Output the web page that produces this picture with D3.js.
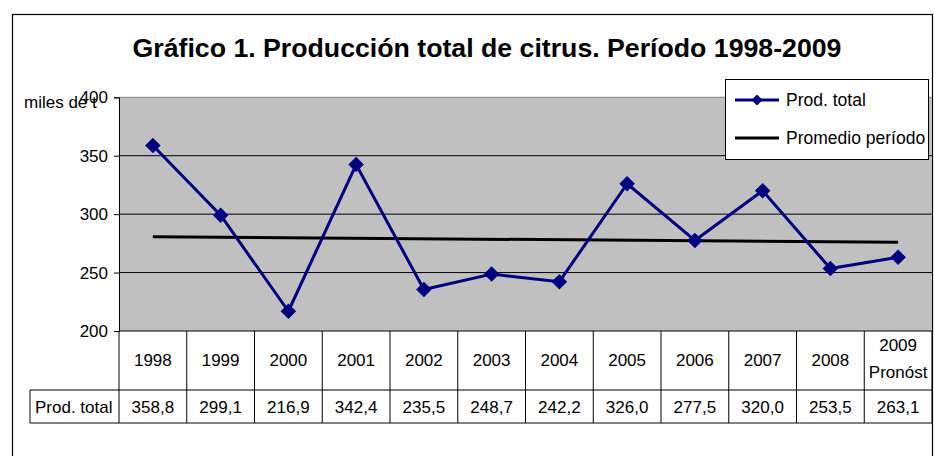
<!DOCTYPE html>
<html><head><meta charset="utf-8">
<script src="https://cdn.jsdelivr.net/npm/d3@7"></script>
<style>body{margin:0;background:#fff}svg{display:block;font-family:"Liberation Sans",Arial,sans-serif}</style>
</head><body>
<svg id="c" width="934" height="456"></svg>
<script>
const categories = ["1998","1999","2000","2001","2002","2003","2004","2005","2006","2007","2008","2009 Pronóst"];
const prodTotal = [358.8,299.1,216.9,342.4,235.5,248.7,242.2,326.0,277.5,320.0,253.5,263.1];
const tableValues = ["358,8","299,1","216,9","342,4","235,5","248,7","242,2","326,0","277,5","320,0","253,5","263,1"];
const promedioCats = ["1998","2009 Pronóst"];
const promedioValues = [280.7, 275.9];
const yTicks = [200,250,300,350,400];
const title = "Gráfico 1. Producción total de citrus. Período 1998-2009";

const svg = d3.select("#c");
const L = 119, R = 932, T = 97.3, B = 331;
const x = d3.scaleBand().domain(categories).range([L, R]);
const y = d3.scaleLinear().domain([200, 400]).range([B, T]);
const cx = d => x(d) + x.bandwidth()/2;

// outer border
svg.append("rect").attr("x",12.5).attr("y",14.5).attr("width",920).attr("height",460)
  .attr("fill","none").attr("stroke","#000").attr("stroke-width",1.2);

svg.append("text").attr("x",487).attr("y",57).attr("text-anchor","middle")
  .attr("font-weight","bold").attr("font-size",26.7).text(title);

// plot area
svg.append("rect").attr("x",L).attr("y",T).attr("width",R-L).attr("height",B-T).attr("fill","#c0c0c0");
svg.append("line").attr("x1",L).attr("x2",R).attr("y1",T).attr("y2",T).attr("stroke","#808080").attr("stroke-width",1);
svg.selectAll(".grid").data(yTicks.filter(v=>v>200 && v<400)).enter().append("line")
  .attr("x1",L).attr("x2",R).attr("y1",d=>y(d)).attr("y2",d=>y(d)).attr("stroke","#000").attr("stroke-width",1);

// y axis
const yAxis = d3.axisLeft(y).tickValues(yTicks).tickSize(5).tickPadding(6).tickFormat(d3.format("d"));
const ga = svg.append("g").attr("transform",`translate(${L},0)`).call(yAxis);
ga.select(".domain").attr("stroke","#000");
ga.selectAll("text").attr("font-size",17).attr("font-family","Liberation Sans, Arial, sans-serif").attr("fill","#000");
svg.append("text").attr("x",24).attr("y",108).attr("font-size",17).text("miles de t");

// bottom axis line
svg.append("line").attr("x1",L).attr("x2",R).attr("y1",B).attr("y2",B).attr("stroke","#000");

// table
const rowB1 = 390, rowB2 = 423, labL = 30;
const tg = svg.append("g").attr("stroke","#000").attr("stroke-width",1);
const edges = categories.map(c=>x(c)).concat([R]);
tg.selectAll(".v").data(edges).enter().append("line")
  .attr("x1",d=>d).attr("x2",d=>d).attr("y1",B).attr("y2",rowB2);
tg.append("line").attr("x1",labL).attr("x2",R).attr("y1",rowB1).attr("y2",rowB1);
tg.append("line").attr("x1",labL).attr("x2",R).attr("y1",rowB2).attr("y2",rowB2);
tg.append("line").attr("x1",labL).attr("x2",labL).attr("y1",rowB1).attr("y2",rowB2);

categories.forEach(c=>{
  const parts = c.split(" ");
  const t = svg.append("text").attr("x",cx(c)).attr("text-anchor","middle").attr("font-size",17);
  if(parts.length===1){ t.attr("y",366).text(c); }
  else {
    t.append("tspan").attr("x",cx(c)).attr("y",351).text(parts[0]);
    t.append("tspan").attr("x",cx(c)).attr("y",378).text(parts[1]);
  }
});
svg.selectAll(".tv").data(tableValues).enter().append("text")
  .attr("x",(d,i)=>cx(categories[i])).attr("y",413).attr("text-anchor","middle").attr("font-size",17).text(d=>d);
svg.append("text").attr("x",35).attr("y",413).attr("font-size",17).text("Prod. total");

// promedio line
svg.append("path").datum(promedioCats.map((c,i)=>[cx(c), y(promedioValues[i])]))
  .attr("d",d3.line()).attr("stroke","#000").attr("stroke-width",3).attr("fill","none");

// series
svg.append("path").datum(prodTotal).attr("d",d3.line().x((d,i)=>cx(categories[i])).y(d=>y(d)))
  .attr("stroke","#000080").attr("stroke-width",3).attr("fill","none").attr("stroke-linejoin","round");
const diamond = d3.symbol().type(d3.symbolSquare).size(120);
svg.selectAll(".m").data(prodTotal).enter().append("path")
  .attr("d",diamond).attr("fill","#000080")
  .attr("transform",(d,i)=>`translate(${cx(categories[i])},${y(d)}) rotate(45)`);

// legend
const lg = svg.append("g");
lg.append("rect").attr("x",725.5).attr("y",79.5).attr("width",203).attr("height",80).attr("fill","#fff").attr("stroke","#000");
lg.append("line").attr("x1",735).attr("x2",779).attr("y1",100).attr("y2",100).attr("stroke","#000080").attr("stroke-width",3);
lg.append("path").attr("d",d3.symbol().type(d3.symbolSquare).size(60)).attr("fill","#000080").attr("transform","translate(757,100) rotate(45)");
lg.append("text").attr("x",786).attr("y",106).attr("font-size",17.5).text("Prod. total");
lg.append("line").attr("x1",735).attr("x2",779).attr("y1",138).attr("y2",138).attr("stroke","#000").attr("stroke-width",3);
lg.append("text").attr("x",786).attr("y",144).attr("font-size",17.5).text("Promedio período");
</script>
</body></html>
